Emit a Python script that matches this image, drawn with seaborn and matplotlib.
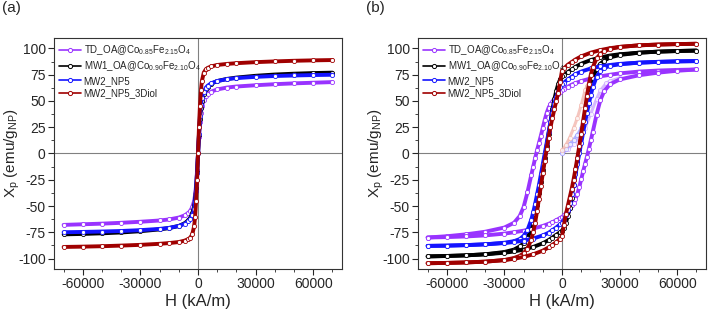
import numpy as np
import pandas as pd
import matplotlib
matplotlib.use("Agg")
import matplotlib.pyplot as plt
import seaborn as sns
from matplotlib.ticker import MultipleLocator
from matplotlib.lines import Line2D

# %% data (field in kA/m)
labels = [
    r"TD_OA@Co$_{0.85}$Fe$_{2.15}$O$_4$",
    r"MW1_OA@Co$_{0.90}$Fe$_{2.10}$O$_4$",
    "MW2_NP5",
    "MW2_NP5_3Diol",
]
colors = ["#9933ff", "#000000", "#1414ff", "#a00000"]
light_colors = ["#c9a3ff", "#9a9aff", "#f2b2a8"]

# panel (a): nearly reversible curves
h_a = [-70000, -60000, -50000, -40000, -30000, -20000, -15000, -10000, -7000, -5000,
       -4000, -3000, -2000, -1500, -1000, -500, 0, 500, 1000, 1500, 2000, 3000, 4000,
       5000, 7000, 10000, 15000, 20000, 30000, 40000, 50000, 60000, 70000]
td_a = [-68, -67.4, -66.8, -66, -65, -63.8, -62.8, -61, -59, -56.5, -54.5, -51, -45,
        -39, -30, -16, 0, 16, 30, 39, 45, 51, 54.5, 56.5, 59, 61, 62.8, 63.8, 65, 66,
        66.8, 67.4, 68]
mw1_a = [-77, -76.6, -76, -75.2, -74, -72.3, -71, -69, -66.5, -63.5, -61, -57, -50,
         -43, -33, -18, 0, 18, 33, 43, 50, 57, 61, 63.5, 66.5, 69, 71, 72.3, 74, 75.2,
         76, 76.6, 77]
np5_a = [-75, -74.7, -74.3, -73.8, -73, -71.8, -70.8, -69, -67, -64.5, -62.5, -59, -53,
         -46, -36, -19, 0, 19, 36, 46, 53, 59, 62.5, 64.5, 67, 69, 70.8, 71.8, 73, 73.8,
         74.3, 74.7, 75]
diol_a = [-89, -88.7, -88.3, -87.7, -87, -86, -85.3, -84.3, -83, -81.5, -80, -77, -69,
          -60, -45, -25, 0, 25, 45, 60, 69, 77, 80, 81.5, 83, 84.3, 85.3, 86, 87, 87.7,
          88.3, 88.7, 89]

# panel (b): descending branch (from +70000 down), ascending branch (from -70000 up)
h_down = [70000, 60000, 50000, 40000, 30000, 25000, 20000, 15000, 10000, 7000, 5000,
          3000, 1000, 0, -1000, -2000, -3000, -4000, -5000, -6000, -7000, -8000, -9000,
          -10000, -11000, -12000, -13000, -14000, -15000, -16000, -18000, -20000,
          -22000, -25000, -30000, -40000, -50000, -60000, -70000]
h_up = [-70000, -60000, -50000, -40000, -30000, -25000, -20000, -15000, -10000, -7000,
        -5000, -3000, -1000, 0, 1000, 2000, 3000, 4000, 5000, 6000, 7000, 8000, 9000,
        10000, 11000, 12000, 13000, 14000, 15000, 16000, 18000, 20000, 22000, 25000,
        30000, 40000, 50000, 60000, 70000]

td_down = [80, 79.6, 79, 78, 76.3, 75, 73.5, 71.5, 69, 67, 65.5, 63.5, 61.5, 60.5, 59,
           57, 54.5, 52, 49.5, 47, 43.5, 38.5, 32, 24.5, 17, 10, 3, -4.5, -12.5, -20.5,
           -37, -51, -59.5, -66, -70.5, -74.5, -77, -78.8, -80]
td_up = [-80, -79.6, -79, -78, -76.3, -75, -73.5, -71.5, -69, -67, -65.5, -63.5, -61.5,
         -60.5, -59, -57, -54.5, -52, -49.5, -47, -43.5, -38.5, -32, -24.5, -17, -10,
         -3, 4.5, 12.5, 20.5, 37, 51, 59.5, 66, 70.5, 74.5, 77, 78.8, 80]

mw1_down = [98, 97.6, 97, 96, 94.5, 93.3, 91.5, 89, 85.5, 82.5, 80, 77.5, 75, 73.5,
            70.5, 66, 59.5, 51.5, 42, 30, 19, 7.5, -4, -15.5, -27, -38, -49, -58, -66,
            -72, -80.5, -85.5, -88.5, -91.5, -93.8, -96, -97, -97.6, -98]
mw1_up = [-98, -97.6, -97, -96, -94.5, -93.3, -91.5, -89, -85.5, -82.5, -80, -77.5,
          -75, -73.5, -70.5, -66, -59.5, -51.5, -42, -30, -19, -7.5, 4, 15.5, 27, 38,
          49, 58, 66, 72, 80.5, 85.5, 88.5, 91.5, 93.8, 96, 97, 97.6, 98]

np5_down = [88, 87.7, 87.2, 86.5, 85.3, 84.3, 83, 81, 78, 75.5, 73, 70.5, 67.5, 66, 63,
            59, 54, 47.5, 39, 30, 20, 10, 0, -10, -20, -30, -39, -48, -56, -63, -73,
            -78.5, -81.5, -83.5, -85, -86.5, -87.3, -87.8, -88]
np5_up = [-88, -87.7, -87.2, -86.5, -85.3, -84.3, -83, -81, -78, -75.5, -73, -70.5,
          -67.5, -66, -63, -59, -54, -47.5, -39, -30, -20, -10, 0, 10, 20, 30, 39, 48,
          56, 63, 73, 78.5, 81.5, 83.5, 85, 86.5, 87.3, 87.8, 88]

diol_down = [104.5, 104.2, 103.7, 103, 101.5, 100.3, 98.5, 96, 92.5, 89.5, 87, 84.5,
             81, 79, 68, 58, 50, 42, 34, 25, 15, 4, -7, -19, -31, -43, -55, -66, -75,
             -82, -90.5, -95, -97.5, -99.5, -101.5, -103, -103.8, -104.2, -104.5]
diol_up = [-104.5, -104.2, -103.7, -103, -101.5, -100.3, -98.5, -96, -92.5, -89.5, -87,
           -84.5, -81, -79, -68, -58, -50, -42, -34, -25, -15, -4, 7, 19, 31, 43, 55,
           66, 75, 82, 90.5, 95, 97.5, 99.5, 101.5, 103, 103.8, 104.2, 104.5]

# initial (virgin) magnetisation curves, drawn faint
h_virgin_td = [0, 3000, 6000, 9000, 12000, 15000, 18000, 20000, 23000, 25000, 30000]
td_virgin = [0, 4, 9, 15, 24, 38, 52, 60, 67, 69, 72]
h_virgin_np5 = [0, 2000, 4000, 6000, 8000, 10000, 12000, 13000, 14000, 15000, 16000]
np5_virgin = [0, 4, 9, 13, 18, 24, 31, 37, 46, 55, 63]
h_virgin_diol = [0, 2000, 4000, 6000, 8000, 10000, 12000, 13000, 14000]
diol_virgin = [3, 8, 15, 24, 34, 46, 60, 64, 68]

# %% style
sns.set_style("ticks")
plt.rcParams["font.family"] = ["Liberation Sans", "DejaVu Sans"]
plt.rcParams["mathtext.fontset"] = "custom"
plt.rcParams["mathtext.rm"] = "Liberation Sans"
plt.rcParams["mathtext.it"] = "Liberation Sans:italic"
plt.rcParams["mathtext.default"] = "rm"
plt.rcParams["axes.unicode_minus"] = False

mk = dict(marker="o", markersize=3.0, markerfacecolor="white", markeredgewidth=0.6)


def draw_curve(ax, x, y, color, lw=2.8, alpha=1.0):
    sns.lineplot(x=x, y=y, ax=ax, color=color, sort=False, estimator=None,
                 linewidth=lw, alpha=alpha, markeredgecolor=color, **mk)


def style_axes(ax, tag):
    ax.set_xlim(-75000, 75000)
    ax.set_ylim(-110, 110)
    ax.axhline(0, color="#808080", lw=0.8, zorder=0)
    ax.axvline(0, color="#808080", lw=0.8, zorder=0)
    ax.xaxis.set_major_locator(MultipleLocator(30000))
    ax.xaxis.set_minor_locator(MultipleLocator(10000))
    ax.yaxis.set_major_locator(MultipleLocator(25))
    ax.yaxis.set_minor_locator(MultipleLocator(12.5))
    ax.tick_params(which="major", direction="out", length=4, width=0.8, labelsize=10,
                   pad=2)
    ax.tick_params(which="minor", direction="out", length=2, width=0.6)
    for s in ax.spines.values():
        s.set_linewidth(0.8)
        s.set_color("#333333")
    ax.set_xlabel("H (kA/m)", fontsize=12, labelpad=2)
    ax.set_ylabel(r"X$_{\rm p}$ (emu/g$_{\rm NP}$)", fontsize=11)
    ax.yaxis.set_label_coords(-0.112, 0.5)
    handles = [Line2D([], [], color=c, lw=1.2, markeredgecolor=c, marker="o",
                      markersize=3, markerfacecolor="white", markeredgewidth=0.7)
               for c in colors]
    ax.legend(handles, labels, loc="upper left", frameon=False, fontsize=7,
              handlelength=2.2, handletextpad=0.3, labelspacing=0.25,
              borderaxespad=0.15, bbox_to_anchor=(0.0, 1.0))
    ax.text(-0.18, 1.1, tag, transform=ax.transAxes, fontsize=11, va="bottom")


fig = plt.figure(figsize=(7.08, 3.14), dpi=100)
ax1 = fig.add_axes([0.0763, 0.1433, 0.4068, 0.7357])
ax2 = fig.add_axes([0.5904, 0.1433, 0.4068, 0.7357])

# %% (a)
for y, c in zip([td_a, mw1_a, np5_a, diol_a], colors):
    draw_curve(ax1, h_a, y, c)
style_axes(ax1, "(a)")

# %% (b)
for hv, yv, c in zip([h_virgin_td, h_virgin_np5, h_virgin_diol],
                     [td_virgin, np5_virgin, diol_virgin], light_colors):
    draw_curve(ax2, hv, yv, c, lw=2.2, alpha=0.75)
for yd, yu, c in zip([td_down, mw1_down, np5_down, diol_down],
                     [td_up, mw1_up, np5_up, diol_up], colors):
    draw_curve(ax2, h_down, yd, c)
    draw_curve(ax2, h_up, yu, c)
style_axes(ax2, "(b)")

fig.savefig("out.png", dpi=100)
